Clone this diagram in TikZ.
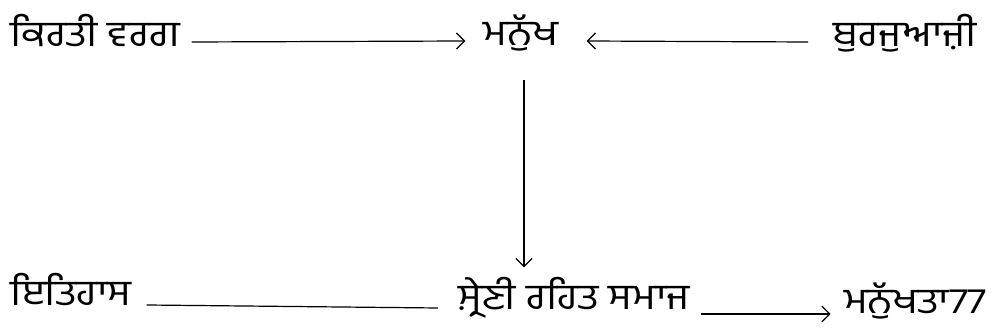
\documentclass[tikz,border=0pt]{standalone}
\usepackage{fontspec}
\newfontfamily\gurmukhi[Script=Gurmukhi, FakeStretch=1.15]{Hind Jalandhar}
\usetikzlibrary{arrows.meta}

\begin{document}
\begin{tikzpicture}[x=0.5pt, y=-0.5pt,
    word/.style={inner sep=0pt, anchor=base west, font=\gurmukhi\fontsize{18}{20}\selectfont},
    link/.style={line width=0.6pt, -{Straight Barb[length=4pt,width=8pt]}}]
    \useasboundingbox (0,0) rectangle (993,336);
    % Top row
    \node[word] (kirti) at (10,47) {ਕਿਰਤੀ ਵਰਗ};
    \node[word, anchor=base] (manukh) at (521,46) {ਮਨੁੱਖ};
    \node[word, anchor=base east] (burj) at (977,47) {ਬੁਰਜੁਆਜ਼ੀ};
    % Bottom row
    \node[word] (itihas) at (10,306) {ਇਤਿਹਾਸ};
    \node[word] (samaj) at (458,310) {ਸ਼੍ਰੇਣੀ ਰਹਿਤ ਸਮਾਜ};
    \node[word, anchor=base east] (manukhta) at (987,314) {ਮਨੁੱਖਤਾ77};
    % Connectors
    \draw[link] ([xshift=5.5pt,yshift=2.5pt]kirti.base east) -- ([xshift=-9pt,yshift=2.5pt]manukh.base west);
    \draw[link] ([xshift=-12.5pt,yshift=2.5pt]burj.base west) -- ([xshift=14pt,yshift=2.5pt]manukh.base east);
    \draw[link] ([xshift=1.5pt,yshift=-14pt]manukh.south) -- ([xshift=1.5pt,yshift=5pt]manukh.south |- samaj.north);
    \draw[line width=0.6pt] ([xshift=7.5pt,yshift=0.5pt]itihas.base east) -- ([xshift=-10pt,yshift=1pt]samaj.base west);
    \draw[link] ([xshift=5.5pt,yshift=-2pt]samaj.base east) -- ([xshift=-6.5pt,yshift=0pt]manukhta.base west);
\end{tikzpicture}
\end{document}
